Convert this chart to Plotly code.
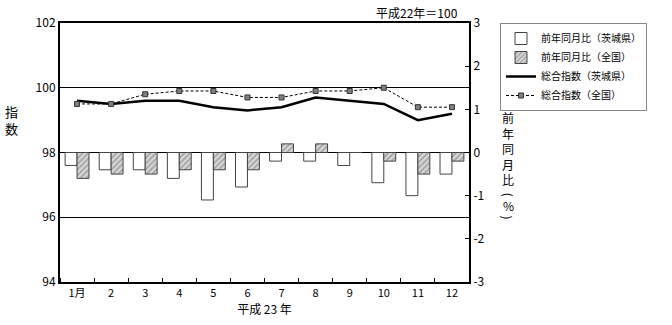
import plotly.graph_objects as go

months = list(range(1, 13))
month_labels = ["1月", "2", "3", "4", "5", "6", "7", "8", "9", "10", "11", "12"]
yoy_ibaraki = [-0.3, -0.4, -0.4, -0.6, -1.1, -0.8, -0.2, -0.2, -0.3, -0.7, -1.0, -0.5]
yoy_japan = [-0.6, -0.5, -0.5, -0.4, -0.4, -0.4, 0.2, 0.2, 0.0, -0.2, -0.5, -0.2]
idx_ibaraki = [99.6, 99.5, 99.6, 99.6, 99.4, 99.3, 99.4, 99.7, 99.6, 99.5, 99.0, 99.2]
idx_japan = [99.5, 99.5, 99.8, 99.9, 99.9, 99.7, 99.7, 99.9, 99.9, 100.0, 99.4, 99.4]

FONT = "Noto Sans CJK JP"
PLOT_L, PLOT_R, PLOT_T, PLOT_B = 60, 469, 23, 284


def px_x(p):
    return (p - PLOT_L) / (PLOT_R - PLOT_L)


def px_y(p):
    return (PLOT_B - p) / (PLOT_B - PLOT_T)


fig = go.Figure()
fig.add_trace(go.Bar(x=months, y=yoy_ibaraki, name="前年同月比（茨城県）", yaxis="y",
                     marker=dict(color="white", line=dict(color="#444", width=1))))
fig.add_trace(go.Bar(x=months, y=yoy_japan, name="前年同月比（全国）", yaxis="y",
                     marker=dict(color="white", line=dict(color="#444", width=1),
                                 pattern=dict(shape="/", fgcolor="#666", bgcolor="#d8d8d8",
                                              size=4, solidity=0.4))))
fig.add_trace(go.Scatter(x=months, y=idx_ibaraki, name="総合指数（茨城県）", yaxis="y2",
                         mode="lines", line=dict(color="black", width=2.5)))
fig.add_trace(go.Scatter(x=months, y=idx_japan, name="総合指数（全国）", yaxis="y2",
                         mode="lines+markers", line=dict(color="black", width=1, dash="3px,2px"),
                         marker=dict(symbol="square", size=5, color="#808080",
                                     line=dict(color="#333", width=1))))

fig.update_layout(
    width=672, height=325,
    margin=dict(l=PLOT_L, r=672 - PLOT_R, t=PLOT_T, b=325 - PLOT_B),
    paper_bgcolor="white", plot_bgcolor="white",
    font=dict(family=FONT, size=12, color="black"),
    barmode="group", bargap=0.3, bargroupgap=0,
    showlegend=True,
    legend=dict(x=px_x(500), y=1.0, xanchor="left", yanchor="top",
                bordercolor="#888", borderwidth=1, bgcolor="white",
                font=dict(size=10, family=FONT), tracegroupgap=0,
                itemwidth=30),
    xaxis=dict(range=[0.5, 12.5], tickmode="array", tickvals=months, ticktext=month_labels,
               ticks="", showline=True, linecolor="black", linewidth=2, mirror=True,
               showgrid=False, zeroline=False, tickfont=dict(size=11),
               minor=dict(tick0=0.5, dtick=1, ticks="inside", ticklen=4, tickcolor="black"),
               title=dict(text="平成 23 年", font=dict(size=12), standoff=4)),
    yaxis=dict(side="right", range=[-3, 3], tickvals=[-3, -2, -1, 0, 1, 2, 3],
               ticktext=["-3", "-2", "-1", "0", "1", "2", "3"],
               ticks="inside", ticklen=4, tickcolor="black", showgrid=False, zeroline=False,
               showline=True, linecolor="black", linewidth=2, tickfont=dict(size=12)),
    yaxis2=dict(overlaying="y", side="left", range=[94, 102], tickvals=[94, 96, 98, 100, 102],
                ticks="", showgrid=True, gridcolor="black", gridwidth=1, zeroline=False,
                showline=True, linecolor="black", linewidth=2, tickfont=dict(size=12)),
)

# left axis title (vertical)
fig.add_annotation(text="指<br>数", x=px_x(11), y=px_y(121), xref="paper", yref="paper",
                   xanchor="center", yanchor="middle",
                   showarrow=False, font=dict(size=13))

# right axis title (vertical)
fig.add_annotation(text="前<br>年<br>同<br>月<br>比", x=px_x(508), y=px_y(108), xref="paper",
                   yref="paper", xanchor="center", yanchor="top",
                   showarrow=False, font=dict(size=12))
for ch, py in [("(", 196), ("%", 207), (")", 219)]:
    fig.add_annotation(text=ch, x=px_x(508), y=px_y(py), xref="paper", yref="paper",
                       xanchor="center", yanchor="middle",
                       textangle=90 if ch in "()" else 0,
                       showarrow=False, font=dict(size=12))

fig.add_annotation(text="平成22年＝100", x=px_x(460), y=1.0, xref="paper", yref="paper",
                   xanchor="right", yanchor="bottom", showarrow=False, font=dict(size=12))

fig.write_html("out.html")
